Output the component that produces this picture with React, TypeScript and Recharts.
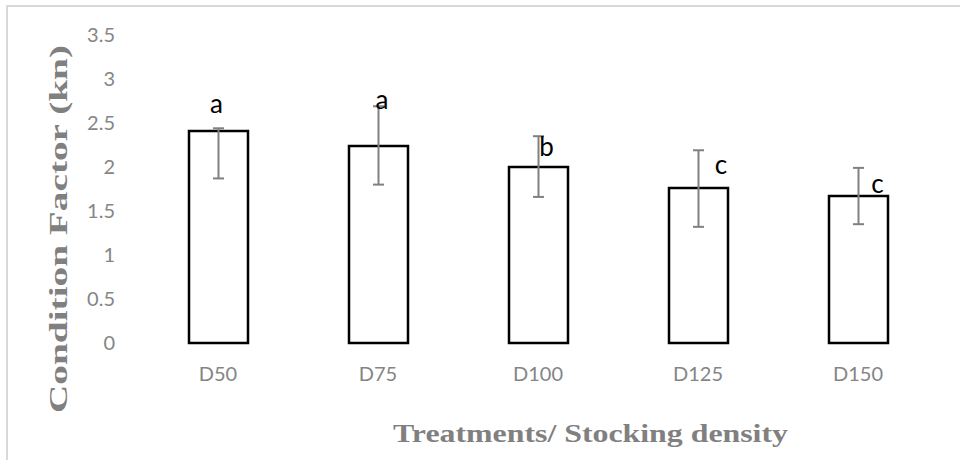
import React from 'react';
import { BarChart, Bar, XAxis, YAxis, ErrorBar, LabelList } from 'recharts';

const categories = ['D50', 'D75', 'D100', 'D125', 'D150'];
const meanValues = [2.41, 2.24, 2.0, 1.76, 1.67];
const errorBelow = [0.54, 0.44, 0.34, 0.44, 0.32];
const errorAbove = [0.03, 0.45, 0.35, 0.43, 0.32];
const significanceLetters = ['a', 'a', 'b', 'c', 'c'];
const yTicks = [0, 0.5, 1, 1.5, 2, 2.5, 3, 3.5];
const xTitle = 'Treatments/ Stocking density';
const yTitle = 'Condition  Factor (kn)';

const data = categories.map((c, i) => ({
  name: c,
  value: meanValues[i],
  err: [errorBelow[i], errorAbove[i]],
  letter: significanceLetters[i],
}));

const LETTER_OFFSETS = [
  { dx: -2, dy: -18 },
  { dx: 3.5, dy: -37 },
  { dx: 8, dy: -11 },
  { dx: 22.5, dy: -14 },
  { dx: 19, dy: -3 },
];

const TICK_STYLE = { fill: '#858585', fontSize: 20, fontFamily: 'Lato, "Open Sans", sans-serif' };
const TITLE_FONT = '"Liberation Serif", "Times New Roman", serif';

const renderLetter = (props: any) => {
  const { x, y, width, index, value } = props;
  const off = LETTER_OFFSETS[index] || { dx: 0, dy: -10 };
  return (
    <text
      x={Number(x) + Number(width) / 2 + off.dx}
      y={Number(y) + off.dy}
      textAnchor="middle"
      fill="#000"
      fontSize={26}
      fontFamily='Lato, "Open Sans", sans-serif'
    >
      {value}
    </text>
  );
};

const XTitle = () => (
  <text
    x={590.5}
    y={442}
    textAnchor="middle"
    fill="#808080"
    fontSize={25}
    fontWeight="bold"
    fontFamily={TITLE_FONT}
    textLength={395}
    lengthAdjust="spacingAndGlyphs"
  >
    {xTitle}
  </text>
);

const YTitle = () => (
  <text
    transform="translate(67,229) rotate(-90)"
    x={0}
    y={0}
    textAnchor="middle"
    fill="#808080"
    fontSize={25}
    fontWeight="bold"
    fontFamily={TITLE_FONT}
    textLength={368}
    lengthAdjust="spacingAndGlyphs"
  >
    {yTitle}
  </text>
);

export default function App() {
  return (
    <div style={{ position: 'absolute', left: 0, top: 0, width: 960, height: 460, overflow: 'hidden', background: '#fff' }}>
      <div
        style={{
          position: 'absolute',
          left: 6,
          top: 5,
          width: 1000,
          height: 500,
          borderTop: '2px solid #d9d9d9',
          borderLeft: '2px solid #d9d9d9',
        }}
      />
      <div style={{ position: 'absolute', left: 0, top: 0 }}>
        <BarChart width={960} height={460} data={data} margin={{ top: 35, right: 22, bottom: 0, left: 0 }}>
          <XAxis
            dataKey="name"
            axisLine={false}
            tickLine={false}
            tickSize={0}
            tickMargin={24}
            height={117}
            interval={0}
            tick={TICK_STYLE}
            label={<XTitle />}
          />
          <YAxis
            domain={[0, 3.5]}
            ticks={yTicks}
            width={138}
            axisLine={false}
            tickLine={false}
            tickSize={0}
            tickMargin={23}
            tick={TICK_STYLE}
            tickFormatter={(v: number) => String(v)}
            label={<YTitle />}
          />
          <Bar dataKey="value" fill="#fff" stroke="#000" strokeWidth={2.5} barSize={59} isAnimationActive={false}>
            <ErrorBar dataKey="err" width={5.5} stroke="#808080" strokeWidth={2} direction="y" />
            <LabelList dataKey="letter" content={renderLetter} />
          </Bar>
        </BarChart>
      </div>
    </div>
  );
}
